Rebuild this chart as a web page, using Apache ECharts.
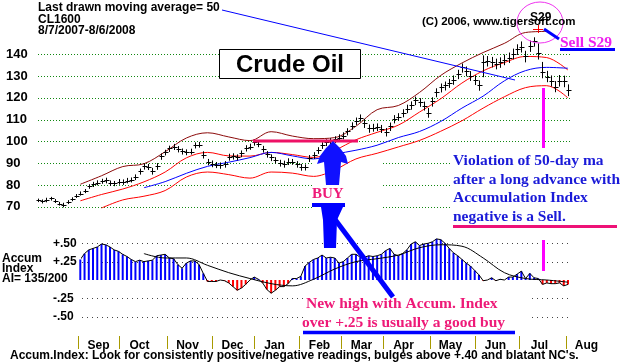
<!DOCTYPE html>
<html><head><meta charset="utf-8">
<script src="https://cdn.jsdelivr.net/npm/echarts@6/dist/echarts.min.js"></script>
<style>html,body{margin:0;padding:0;background:#fff}#c{width:621px;height:362px}</style>
</head><body><div id="c"></div><script>
// ---- data (trading-day index 0 = 8/7/2007, 252 = 8/6/2008) ----
const lastDay = 252;
const priceStep = 2;
const priceClose = [73,72.5,73,74,72.5,71.5,71,72.4,73.5,75, 76,77.4,79.5,80.3,81,81.7,82.2,81,80.8,81.4, 81.5,82,82.4,83.6,86.5,88.6,88.4,86.3,88.7,93.4, 95,96.8,97.5,96.7,95.6,95,95.4,98.4,98.6,93.8, 90.7,89.8,89.3,89,89.5,93,93.2,92.8,94.5,97.1, 97.6,99.6,99,96.5,94.2,92.7,91.5,90.1,89.8,90.8, 90.8,89.6,88.3,88.1,92.4,93.7,96,98.4,99.6,100.1, 101,101.8,102.7,104.7,107.3,109.4,111,108.5,106,106.4, 106.7,105.9,104.4,106.9,110.4,111.4,113.1,115.1,116.7,118.9, 118.1,116.5,113.2,118.4,122.6,124.8,125.7,126.8,128.4,131, 134,132.3,130.2,128.4,125.9,136.4,137,136.5,135.7,136.4, 137.5,138.5,140.3,142.3,143.5,139,143.8,146.3,140.4,131.8, 129.8,127.8,125.2,127.9,127.6,123.6];
const priceLow = [72.2,71.6,72.1,72.9,71.8,70.6,69.8,71.3,72.6,74.1, 75.2,76.3,78.3,79.1,79.9,80.6,80.8,79.6,79.5,80.2, 80.1,80.8,81.2,82.3,84.8,87.1,86.9,84.8,87.0,91.6, 93.6,95.2,96.1,95.0,94.0,93.7,94.0,96.8,97.2,92.2, 89.1,88.2,87.8,87.5,88.0,91.2,91.7,91.3,92.8,95.4, 96.2,98.1,97.4,94.9,92.6,91.0,89.9,88.5,88.0,89.2, 89.3,88.0,86.6,86.7,90.6,92.0,94.3,96.6,97.9,98.6, 99.3,100.0,101.0,102.8,105.4,107.6,109.1,106.2,104.0,104.5, 104.8,103.9,102.3,104.8,108.3,109.5,111.1,113.0,114.6,116.7, 115.9,114.2,110.9,116.0,120.3,122.5,123.4,124.6,126.0,128.6, 131.6,129.9,127.8,125.9,123.3,129.5,134.4,134.0,133.1,133.8, 135.0,136.0,137.7,139.7,140.8,136.3,141.1,143.5,137.6,129.0, 127.2,125.2,122.6,125.2,124.9,120.8];
const priceHigh = [73.8,73.4,74.2,74.6,73.6,72.3,71.9,73.1,74.4,75.9, 77.1,78.2,80.4,81.5,82.2,82.9,83.4,82.1,81.9,82.8, 82.6,83.3,83.5,84.9,87.6,89.9,89.7,87.9,90.1,94.5, 96.2,98.1,98.9,97.9,96.8,96.4,96.7,99.6,99.8,95.5, 92.0,91.3,90.6,90.4,91.0,94.4,94.6,94.1,95.9,98.3, 99.0,100.8,100.3,98.0,95.6,94.1,92.8,91.6,91.2,92.3, 92.0,91.0,89.7,89.5,93.8,95.1,97.4,99.7,101.0,101.5, 102.4,103.3,104.2,106.1,108.8,111.0,112.4,110.3,107.8,108.1, 108.3,107.6,106.2,108.7,112.1,113.0,114.8,116.9,118.4,120.6, 119.9,118.3,115.4,120.3,124.4,126.6,127.5,128.7,130.3,132.9, 135.8,134.4,132.3,130.4,128.0,139.5,139.2,138.8,138.0,138.6, 139.9,140.8,142.6,144.6,145.9,141.6,146.3,147.8,145.0,136.5, 132.4,130.3,127.7,130.5,130.2,126.2];

const bandStep = 10;
const upperOuterBand = [null,null,80.4,84.3,88.5,89.8,95.3,101.6,104,102.1,100.4,104.5,102.5,101.3,101.8,107,114.6,116.5,122.5,130.3,136,140.8,145,150,150.5,null];
const upperInnerBand = [null,null,72.8,75.7,78.2,81.5,86,92.5,95,93.4,93.3,95,94,92.7,96,100.8,104.2,107.5,113.5,119.6,126.8,132.4,136.2,139,138.5,132.8];
const movingAvg50 = [null,null,null,null,null,78.8,81.6,85.4,88.6,90.5,92.6,95,93.4,92,94.2,96,98.3,101.8,104.6,109.2,115.3,120.8,127.8,132.5,134,133.6];
const lowerBand = [null,null,null,69.5,73.2,74.9,77.5,83.7,86,84.8,83.2,86,85.5,84,87,92,94.6,97.5,100.5,104.7,109.5,115.3,120.5,124.7,125.6,120];

const accumStartDay = 20;
const accumStep = 2;
const accumIndex = [0.28,0.36,0.41,0.43,0.45,0.49,0.48,0.45,0.41,0.39, 0.35,0.32,0.28,0.25,0.27,0.25,0.26,0.27,0.33,0.34, 0.35,0.3,0.29,0.21,0.16,0.23,0.26,0.26,0.21,0.09, -0.02,-0.02,-0.02,0.0,-0.01,-0.04,-0.09,-0.14,-0.11,-0.06, 0.0,0.04,0.01,-0.04,-0.13,-0.18,-0.14,-0.09,-0.09,-0.05, 0.02,0.02,0.05,0.19,0.24,0.28,0.3,0.34,0.3,0.31, 0.3,0.23,0.25,0.3,0.35,0.35,0.31,0.31,0.33,0.32, 0.33,0.35,0.4,0.43,0.35,0.33,0.36,0.41,0.49,0.52, 0.47,0.49,0.5,0.52,0.56,0.55,0.5,0.43,0.37,0.33, 0.28,0.23,0.19,0.13,0.07,-0.01,0.0,0.03,-0.01,0.01, 0.0,0.04,0.04,0.08,0.12,0.02,0.09,0.03,0.02,-0.06, -0.04,-0.05,-0.05,-0.04,-0.08,-0.06];
const accumAvg = [null,null,null,null,null,0.36,0.3,0.3,0.2,0.1,0.02,-0.05,-0.08,0.01,0.15,0.25,0.29,0.34,0.44,0.48,0.46,0.3,0.1,0.02,0.0,-0.03];

const monthStarts = [19,38,61,82,102,123,143,163,185,206,227,249];
const monthNames = ['Sep','Oct','Nov','Dec','Jan','Feb','Mar','Apr','May','Jun','Jul','Aug'];
const priceGridTicks = [70,80,90,100,110,120,130,140];
const accumGridTicks = [0.5,0.25,-0.25,-0.5];
const priceAxis = { min: 70, max: 150, step: 10, lastLabel: 140 };
const accumAxis = { min: -0.5, max: 0.5, step: 0.25, firstDay: 20.8 };

// ---- build ----
const SANS = '"Liberation Sans", Arial, sans-serif';
const SERIF = '"Liberation Serif", "Times New Roman", serif';
const priceData = priceClose.map((c, i) => [i * priceStep, priceLow[i], priceHigh[i], c]);
const toBand = arr => arr.map((v, j) => v == null ? null : [j * bandStep, v]).filter(Boolean);
const accumData = accumIndex.map((v, i) => [accumStartDay + i * accumStep, v]);
// pixel areas where the annotation text blanks the dotted grid
const gridMasks = [[450, 149, 621, 223], [312, 150, 382, 212], [304, 291, 528, 334]];
const masked = (x, y) => gridMasks.some(m => x >= m[0] && x <= m[2] && y >= m[1] && y <= m[3]);

function bandSeries(arr, color, width) {
  return { type: 'line', xAxisIndex: 0, yAxisIndex: 0, z: 3, data: toBand(arr), smooth: 0.35,
    symbol: 'none', silent: true, clip: false, lineStyle: { color: color, width: width } };
}

const txt = (x, y, text, size, weight, family, fill, align) => ({
  type: 'text', x: x, y: y, z: 20,
  style: { text: text, fontSize: size, fontWeight: weight, fontFamily: family, fill: fill,
    align: align || 'left', verticalAlign: 'middle' } });
const seg = (x1, y1, x2, y2, color, w, z) => ({ type: 'line', z: z || 15,
  shape: { x1: x1, y1: y1, x2: x2, y2: y2 }, style: { stroke: color, lineWidth: w, lineCap: 'butt' } });

const graphics = [
  txt(38, 8, 'Last drawn moving average= 50', 12, 'bold', SANS, '#000'),
  txt(38, 20, 'CL1600', 12, 'bold', SANS, '#000'),
  txt(38, 30.5, '8/7/2007-8/6/2008', 12, 'bold', SANS, '#000'),
  seg(222, 10, 515, 80, '#0000ff', 1),
  { type: 'rect', z: 16, shape: { x: 219.5, y: 49.5, width: 141, height: 29 }, style: { fill: '#fff', stroke: '#000', lineWidth: 1 } },
  txt(290, 65, 'Crude Oil', 24, 'bold', SANS, '#000', 'center'),
  txt(422, 22, '(C) 2006, www.tigersoft.com', 11.5, 'bold', SANS, '#000'),
  txt(530, 17.5, 'S29', 12, 'bold', SANS, '#000'),
  seg(533, 29.5, 543, 29.5, '#ff0000', 1),
  seg(538.5, 25, 538.5, 33, '#ff0000', 1),
  { type: 'ellipse', z: 15, shape: { cx: 540, cy: 22.5, rx: 23, ry: 20.5 }, style: { fill: 'none', stroke: '#ee33ee', lineWidth: 1 } },
  seg(544, 29, 559, 39, '#0000ff', 3),
  txt(560, 42.5, 'Sell S29', 15.5, 'bold', SERIF, '#ee22ee'),
  seg(560, 49.5, 615, 49.5, '#0000ff', 3),
  seg(253, 141, 358, 141, '#ee1166', 3),
  seg(543.5, 88, 543.5, 148, '#ff00ff', 3),
  seg(543.5, 240, 543.5, 271, '#ff00ff', 3),
  { type: 'polygon', z: 15, shape: { points: [[333,141],[340,148],[346,156],[348,164],[341,162],[339,185],[326,185],[324,162],[317,164],[320,156],[326,148]] }, style: { fill: '#1010ff' } },
  txt(312, 194.5, 'BUY', 15, 'bold', SERIF, '#ee1a78'),
  { type: 'rect', z: 15, shape: { x: 312, y: 203, width: 33, height: 4 }, style: { fill: '#0000ff' } },
  { type: 'polygon', z: 15, shape: { points: [[321,207],[343,207],[337,220],[336,248],[324,248],[323,220]] }, style: { fill: '#0000ff' } },
  seg(328, 210, 393, 297, '#0000ff', 5),
  txt(453, 161, 'Violation of 50-day ma', 15.5, 'bold', SERIF, '#1a1ad8'),
  txt(453, 179.5, 'after a long advance with', 15.5, 'bold', SERIF, '#1a1ad8'),
  txt(453, 198, 'Accumulation Index', 15.5, 'bold', SERIF, '#1a1ad8'),
  txt(453, 216.5, 'negative is a Sell.', 15.5, 'bold', SERIF, '#1a1ad8'),
  seg(453, 226.5, 617, 226.5, '#ee1177', 3),
  txt(306, 304, 'New high with Accum. Index', 15.5, 'bold', SERIF, '#ee1a78'),
  txt(302, 323, 'over +.25 is usually a good buy', 15.5, 'bold', SERIF, '#ee1a78'),
  seg(303, 332.5, 515, 332.5, '#0000ff', 3.5),
  txt(2, 259, 'Accum', 12, 'bold', SANS, '#000'),
  txt(2, 269, 'Index', 12, 'bold', SANS, '#000'),
  txt(2, 279, 'AI= 135/200', 12, 'bold', SANS, '#000'),
  txt(10, 356, "Accum.Index: Look for consistently positive/negative readings, bulges above +.40 and blatant NC's.", 12, 'bold', SANS, '#000')
];

const chart = echarts.init(document.getElementById('c'), null, { renderer: 'canvas' });
chart.setOption({
  animation: false,
  grid: [
    { left: 38, right: 51, top: 32.5, height: 174.4 },
    { left: 82, right: 53, top: 243.3, height: 73.4 },
    { left: 38, right: 49, top: 336, height: 14 }
  ],
  xAxis: [
    { type: 'value', gridIndex: 0, min: 0, max: lastDay - 1, show: false },
    { type: 'value', gridIndex: 1, min: accumAxis.firstDay, max: lastDay - 2, show: false },
    { type: 'value', gridIndex: 2, min: 0, max: lastDay, show: false }
  ],
  yAxis: [
    { type: 'value', gridIndex: 0, min: priceAxis.min, max: priceAxis.max, interval: priceAxis.step,
      axisLine: { show: false }, axisTick: { show: false }, splitLine: { show: false },
      axisLabel: { align: 'left', margin: 32, color: '#000', fontSize: 13, fontWeight: 'bold', fontFamily: SANS,
        formatter: v => v <= priceAxis.lastLabel ? String(v) : '' } },
    { type: 'value', gridIndex: 1, min: accumAxis.min, max: accumAxis.max, interval: accumAxis.step,
      axisLine: { show: false }, axisTick: { show: false }, splitLine: { show: false },
      axisLabel: { align: 'left', margin: 29, color: '#000', fontSize: 12, fontWeight: 'bold', fontFamily: SANS,
        formatter: v => Math.abs(v) < 0.01 ? '' : (v > 0 ? '+' : '-') + Math.abs(v).toFixed(2).slice(1) } },
    { type: 'value', gridIndex: 2, min: 0, max: 1, show: false }
  ],
  series: [
    bandSeries(upperOuterBand, '#8b0a0a', 1),
    bandSeries(upperInnerBand, '#ff0000', 1),
    bandSeries(movingAvg50, '#0000ff', 1),
    bandSeries(lowerBand, '#ff0000', 1),
    { type: 'custom', xAxisIndex: 0, yAxisIndex: 0, z: 4, silent: true, data: priceData,
      encode: { x: 0, y: [1, 2, 3] },
      renderItem(params, api) {
        const d = api.value(0);
        const lo = api.coord([d, api.value(1)]);
        const hi = api.coord([d, api.value(2)]);
        const c = api.coord([d, api.value(3)]);
        const x = Math.round(lo[0]) + 0.5;
        const yc = Math.round(c[1]) + 0.5;
        return { type: 'group', children: [
          { type: 'line', shape: { x1: x, y1: lo[1], x2: x, y2: hi[1] }, style: { stroke: '#000', lineWidth: 1 } },
          { type: 'line', shape: { x1: x - 2, y1: yc, x2: x + 3, y2: yc }, style: { stroke: '#000', lineWidth: 1 } }
        ] };
      } },
    { type: 'bar', xAxisIndex: 1, yAxisIndex: 1, z: 4, silent: true, clip: false, data: accumData, barWidth: 2,
      itemStyle: { color: p => p.value[1] >= 0 ? '#0000ff' : '#ff0000' } },
    { type: 'line', xAxisIndex: 1, yAxisIndex: 1, z: 5, silent: true, clip: false, data: accumData, symbol: 'none',
      lineStyle: { color: '#000', width: 1 } },
    { type: 'line', xAxisIndex: 1, yAxisIndex: 1, z: 5, silent: true, clip: false, data: toBand(accumAvg), symbol: 'none',
      smooth: 0.35, lineStyle: { color: '#000', width: 1 } },
    { type: 'custom', xAxisIndex: 2, yAxisIndex: 2, z: 4, silent: true,
      data: monthStarts.map((d, i) => [d, i]), encode: { x: 0 },
      renderItem(params, api) {
        const top = api.coord([api.value(0), 1]);
        const bot = api.coord([api.value(0), 0]);
        const x = Math.round(top[0]) + 0.5;
        return { type: 'group', children: [
          { type: 'line', shape: { x1: x, y1: top[1], x2: x, y2: bot[1] - 1 }, style: { stroke: '#a89a00', lineWidth: 1 } },
          { type: 'text', x: x + 20, y: 346, style: { text: monthNames[api.value(1)], fontSize: 12, fontWeight: 'bold',
            fontFamily: SANS, fill: '#000', align: 'center', verticalAlign: 'middle' } }
        ] };
      } }
  ]
});

// dotted gridlines placed through the axes' own scales
function gridDots(ticks, gridIndex, startDay, endDay, color, gap) {
  const children = [];
  ticks.forEach(v => {
    const p = chart.convertToPixel({ gridIndex: gridIndex }, [startDay, v]);
    const q = chart.convertToPixel({ gridIndex: gridIndex }, [endDay, v]);
    const y = Math.round(p[1]);
    for (let x = Math.round(p[0]); x <= q[0]; x += gap) {
      if (masked(x, y)) continue;
      children.push({ type: 'rect', shape: { x: x, y: y, width: 1, height: 1 }, style: { fill: color }, silent: true });
    }
  });
  return { type: 'group', z: 3, silent: true, children: children };
}
const gridGraphics = [
  gridDots(priceGridTicks, 0, 0, lastDay - 1, '#118811', 3),
  gridDots(accumGridTicks, 1, accumAxis.firstDay, lastDay - 2, '#444444', 5)
];
chart.setOption({ graphic: gridGraphics.concat(graphics) });
</script></body></html>
